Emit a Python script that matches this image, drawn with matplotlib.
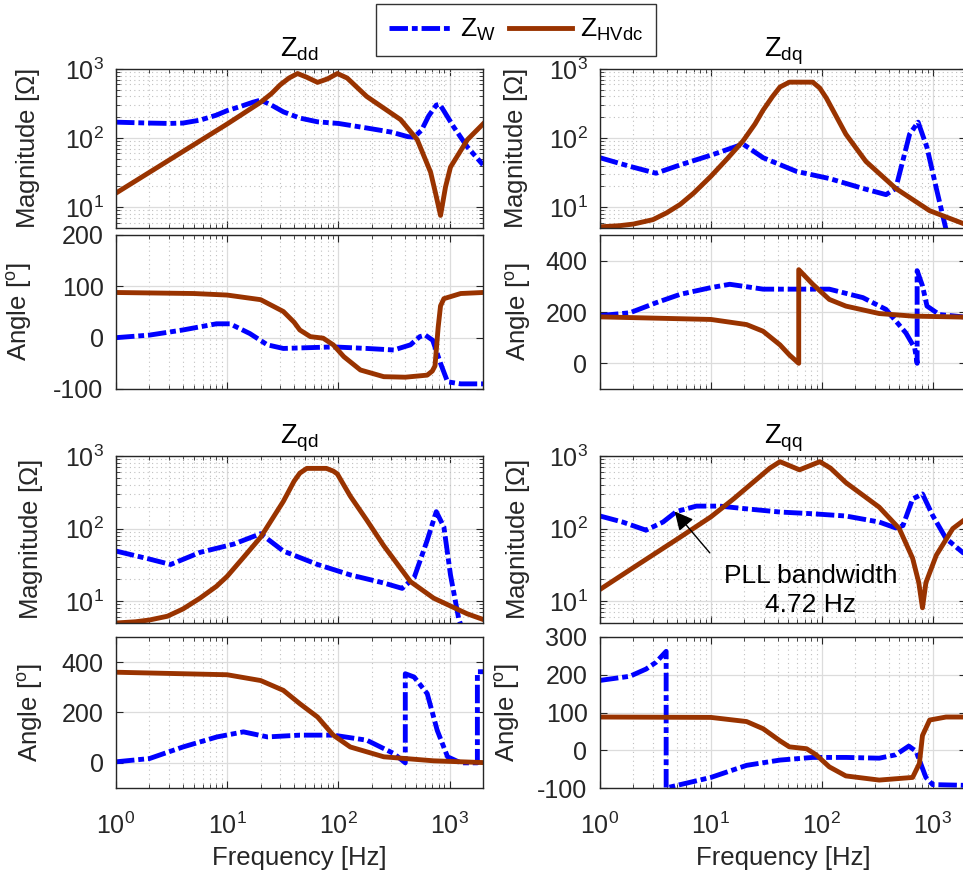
import matplotlib
matplotlib.use('Agg')
import matplotlib.pyplot as plt
from matplotlib.lines import Line2D

plt.rcParams['font.family'] = ['Liberation Sans', 'DejaVu Sans']
plt.rcParams['mathtext.fontset'] = 'custom'
plt.rcParams['mathtext.rm'] = 'Liberation Sans'
plt.rcParams['mathtext.it'] = 'Liberation Sans:italic'
plt.rcParams['mathtext.bf'] = 'Liberation Sans:bold'
plt.rcParams['axes.unicode_minus'] = False

BLUE = '#0000ff'
BROWN = '#993300'
TXT = '#262626'
DASH = (3.8, 0.8, 1.2, 0.8)

# ---- Z_dd ----
f_dd_mag_hv = [1, 2, 5, 10, 20, 25, 30, 36, 43, 52, 65, 80, 98, 120, 180, 363, 512, 676, 748, 830, 920, 1020, 1450, 2000]
dd_mag_hv = [16, 32, 80, 160, 330, 440, 590, 740, 860, 760, 640, 720, 860, 740, 400, 185, 95, 32, 16, 7.6, 19.6, 38, 95, 160]
f_dd_mag_w = [1, 2, 3, 4, 5.7, 8, 10, 13, 17, 20, 25, 32, 45, 65, 100, 180, 300, 420, 480, 560, 650, 760, 815, 900, 1090, 1450, 2000]
dd_mag_w = [170, 165, 163, 165, 182, 215, 250, 285, 330, 355, 300, 240, 195, 172, 163, 140, 122, 105, 103, 130, 210, 300, 310, 240, 145, 74, 41]
f_dd_ang_hv = [1, 5, 10, 20, 32, 40, 45, 56, 73, 90, 112, 158, 256, 400, 630, 700, 740, 790, 830, 890, 1260, 2000]
dd_ang_hv = [88, 86, 83, 74, 51, 30, 15, 2, -1, -14, -37, -63, -76, -77, -73, -65, -55, 20, 62, 76, 86, 88]
f_dd_ang_w = [1, 2, 4, 8, 10.6, 16, 23, 32, 90, 180, 315, 445, 540, 605, 705, 830, 960, 1260, 2000]
dd_ang_w = [0, 5, 15, 27, 27, 8, -14, -21, -18, -21, -24, -14, 2, 5, -5, -50, -86, -90, -90]

# ---- Z_dq ----
f_dq_mag_hv = [1, 1.5, 2, 3, 4, 5.3, 7, 10, 14, 19.5, 25, 29.6, 36, 42, 51, 83, 96, 110, 126, 165, 250, 465, 940, 2000]
dq_mag_hv = [5.2, 5.4, 5.7, 6.6, 8.3, 11, 16, 28, 50, 91, 160, 254, 400, 548, 645, 645, 530, 380, 254, 114, 46, 18.7, 8.9, 5.6]
f_dq_mag_w = [1, 1.86, 3.2, 5.3, 10.5, 19.5, 29.6, 59, 117, 235, 380, 465, 620, 740, 890, 1080, 1320, 1500]
dq_mag_w = [52, 39, 31, 41, 58, 82, 52, 33, 26, 18.7, 15.2, 18.7, 114, 170, 73, 18.7, 4.8, 3]
f_dq_ang_hv = [1, 10, 21, 29.6, 42, 51, 62, 62, 83, 117, 165, 330, 660, 2000]
dq_ang_hv = [181, 171, 151, 125, 72, 33, 0, 365, 308, 249, 223, 194, 184, 180]
f_dq_ang_w = [1, 1.86, 3.2, 5.3, 10, 14.8, 29.6, 59, 117, 235, 380, 575, 690, 725, 725, 810, 890, 1150, 2000]
dq_ang_w = [186, 197, 236, 269, 295, 308, 289, 289, 289, 256, 210, 118, 59, 0, 361, 302, 223, 190, 180]

# ---- Z_qd ----
f_qd_mag_hv = [1, 1.5, 2, 2.9, 4, 5.7, 8, 10, 14, 20, 32, 40, 45, 52, 78, 90, 98, 128, 180, 256, 445, 720, 1440, 2000]
qd_mag_hv = [5, 5.2, 5.5, 6.2, 7.8, 11, 16, 22, 40, 76, 237, 450, 580, 675, 675, 620, 565, 280, 131, 58, 18.6, 11, 6.7, 5.6]
f_qd_mag_w = [1, 2, 3.1, 5.7, 11.4, 20, 32, 65, 128, 256, 375, 480, 630, 760, 890, 1020, 1210, 1400]
qd_mag_w = [49, 38, 32, 47, 61, 85, 49, 32, 23, 17.8, 15, 21, 69, 171, 105, 23, 5.7, 3]
f_qd_ang_hv = [1, 10, 20, 32, 45, 65, 90, 128, 256, 720, 2000]
qd_ang_hv = [360, 350, 327, 288, 235, 182, 110, 63, 24, 8, 1]
f_qd_ang_w = [1, 2, 4, 8.1, 14, 23, 45, 90, 180, 315, 400, 400, 480, 630, 775, 960, 1260, 1780, 1780, 2000]
qd_ang_w = [4, 17, 63, 103, 123, 103, 110, 110, 90, 37, 0, 354, 341, 275, 129, 24, 0, 0, 362, 362]

# ---- Z_qq ----
f_qq_mag_hv = [1, 2, 5, 10, 16, 26, 34, 42, 63, 96, 120, 165, 330, 500, 660, 750, 810, 870, 1080, 1520, 2000]
qq_mag_hv = [14.5, 29, 72, 145, 256, 480, 680, 835, 645, 835, 680, 430, 197, 100, 39, 18, 8.1, 18, 43, 100, 137]
f_qq_mag_w = [1, 1.6, 2.6, 3.7, 4.9, 7.4, 12, 21, 42, 83, 165, 330, 465, 540, 660, 810, 1000, 1320, 2000]
qq_mag_w = [149, 123, 95, 123, 172, 204, 204, 187, 169, 160, 149, 123, 102, 110, 256, 300, 152, 73, 43]
f_qq_ang_hv = [1, 10, 21, 29.6, 42, 51, 73, 89, 117, 165, 330, 660, 760, 810, 940, 1320, 2000]
qq_ang_hv = [88, 87, 76, 57, 25, 9, 4, -12, -44, -68, -79, -72, -35, 39, 80, 88, 88]
f_qq_ang_w = [1, 1.86, 2.6, 3.2, 3.95, 3.95, 5.3, 10, 21, 42, 83, 165, 330, 465, 610, 710, 870, 1000, 2000]
qq_ang_w = [185, 196, 215, 233, 262, -100, -91, -72, -40, -26, -19, -19, -21, -12, 11, -3, -72, -91, -93]

W, H = 963, 886


def px_axes(x0, x1, y0, y1):
    return [x0 / W, 1 - y1 / H, (x1 - x0) / W, (y1 - y0) / H]


def style(ax, xlabels):
    ax.set_xscale('log')
    ax.set_xlim(1, 2000)
    ax.set_axisbelow(True)
    ax.grid(True, which='major', color='#dcdcdc', lw=0.9, ls='-')
    ax.grid(True, which='minor', color='#c0c0c0', lw=0.8, ls=(0, (1, 3)))
    ax.tick_params(which='both', direction='in', top=True, right=True,
                   colors=TXT, labelsize=18)
    ax.tick_params(axis='y', pad=9)
    ax.tick_params(axis='x', pad=18)
    ax.tick_params(which='major', length=5)
    ax.tick_params(which='minor', length=3)
    for s in ax.spines.values():
        s.set_color(TXT)
        s.set_linewidth(1.0)
    if not xlabels:
        ax.tick_params(axis='x', labelbottom=False)
    else:
        ax.set_xticks([1, 10, 100, 1000])
        ax.set_xlabel('Frequency [Hz]', fontsize=18.5, color=TXT, labelpad=5)


def draw(ax, f_w, y_w, f_hv, y_hv):
    ax.plot(f_w, y_w, color=BLUE, lw=3.5, dashes=DASH, dash_capstyle='butt')
    ax.plot(f_hv, y_hv, color=BROWN, lw=3.5, solid_joinstyle='round')


fig = plt.figure(figsize=(W / 100, H / 100), dpi=100)

cols = [(116, 483), (600, 966)]
rows = [((69, 228), (235, 389)), ((456, 623), (637, 788))]

panels = [
    ('dd', 0, 0, f_dd_mag_w, dd_mag_w, f_dd_mag_hv, dd_mag_hv,
     f_dd_ang_w, dd_ang_w, f_dd_ang_hv, dd_ang_hv, (-100, 200), [-100, 0, 100, 200]),
    ('dq', 0, 1, f_dq_mag_w, dq_mag_w, f_dq_mag_hv, dq_mag_hv,
     f_dq_ang_w, dq_ang_w, f_dq_ang_hv, dq_ang_hv, (-100, 500), [0, 200, 400]),
    ('qd', 1, 0, f_qd_mag_w, qd_mag_w, f_qd_mag_hv, qd_mag_hv,
     f_qd_ang_w, qd_ang_w, f_qd_ang_hv, qd_ang_hv, (-100, 500), [0, 200, 400]),
    ('qq', 1, 1, f_qq_mag_w, qq_mag_w, f_qq_mag_hv, qq_mag_hv,
     f_qq_ang_w, qq_ang_w, f_qq_ang_hv, qq_ang_hv, (-100, 300), [-100, 0, 100, 200, 300]),
]

# right edge (pixels) of each y label
lab_mag = {'dd': 42, 'dq': 530, 'qd': 45, 'qq': 532}
lab_ang = {'dd': 34, 'dq': 533, 'qd': 45, 'qq': 522}

mag_axes = {}
for name, r, c, fmw, mw, fmh, mh, faw, aw, fah, ah, alim, aticks in panels:
    x0, x1 = cols[c]
    (my0, my1), (ay0, ay1) = rows[r]
    axm = fig.add_axes(px_axes(x0, x1, my0, my1))
    axa = fig.add_axes(px_axes(x0, x1, ay0, ay1))

    draw(axm, fmw, mw, fmh, mh)
    axm.set_yscale('log')
    style(axm, False)
    axm.set_ylim(5, 1000)
    axm.set_yticks([10, 100, 1000])
    axm.set_title(r'$\mathrm{Z}_{\mathrm{%s}}$' % name, fontsize=19.5, color='k', pad=9)
    axm.set_ylabel(r'Magnitude [$\Omega$]', fontsize=18.5, color=TXT)

    draw(axa, faw, aw, fah, ah)
    style(axa, r == 1)
    axa.set_ylim(*alim)
    axa.set_yticks(aticks)
    axa.set_ylabel(r'Angle [$^{\mathrm{o}}$]', fontsize=18.5, color=TXT)

    axm.yaxis.set_label_coords((lab_mag[name] - x0) / (x1 - x0), 0.5)
    axa.yaxis.set_label_coords((lab_ang[name] - x0) / (x1 - x0), 0.5)
    mag_axes[name] = axm

# PLL annotation on Z_qq magnitude
axq = mag_axes['qq']
axq.annotate('', xy=(4.72, 172), xytext=(0.30, 0.42), textcoords='axes fraction',
             arrowprops=dict(arrowstyle='-|>', color='k', lw=1.0, mutation_scale=28,
                             shrinkA=0, shrinkB=0))
axq.text(0.575, 0.195, 'PLL bandwidth\n4.72 Hz', transform=axq.transAxes,
         ha='center', va='center', fontsize=19, color='k', linespacing=1.25)

handles = [Line2D([], [], color=BLUE, lw=3.5, dashes=DASH, dash_capstyle='butt'),
           Line2D([], [], color=BROWN, lw=3.5)]
leg = fig.legend(handles, [r'$\mathrm{Z}_{\mathrm{W}}$', r'$\mathrm{Z}_{\mathrm{HVdc}}$'],
                 loc='center', bbox_to_anchor=(516 / W, 1 - 30 / H), ncol=2,
                 fontsize=19, handlelength=2.4, columnspacing=0.5, handletextpad=0.3,
                 frameon=True, fancybox=False, edgecolor='k', borderpad=0.5)
leg.get_frame().set_linewidth(1.0)

fig.savefig('out.png', dpi=100)
